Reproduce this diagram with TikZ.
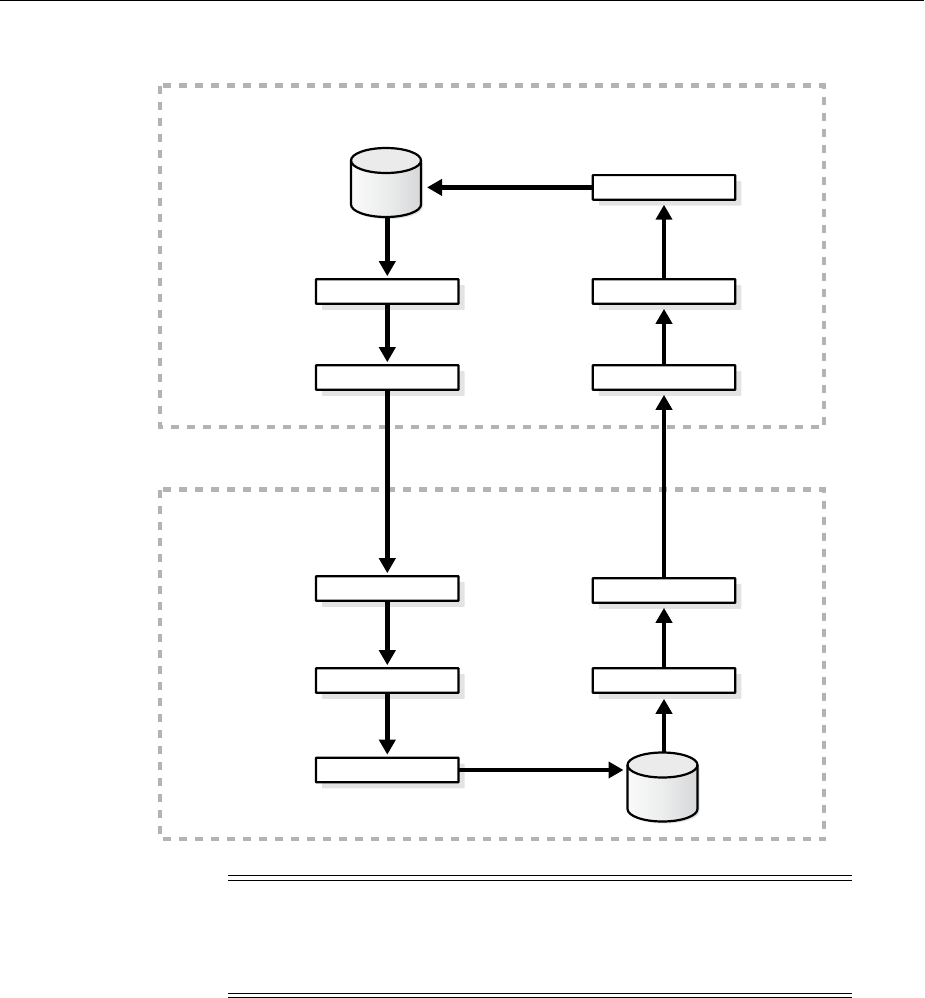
\documentclass[tikz,border=0pt]{standalone}
\usetikzlibrary{arrows.meta,shadows,calc}
\definecolor{dashgrey}{HTML}{B3B3B3}
\definecolor{shadowgrey}{HTML}{E3E3E3}
\definecolor{dbtopfill}{HTML}{EBEBEB}
\definecolor{dbleft}{HTML}{FAFAFA}
\definecolor{dbmid}{HTML}{ECEDED}
\definecolor{dbright}{HTML}{D6D7D8}
\tikzset{
  every picture/.style={x=1pt,y=-1pt},
  stepbox/.style={draw=black,line width=2.2pt,fill=white,minimum width=142.5pt,minimum height=24.6pt,inner sep=0pt,outer sep=0pt,
     rounded corners=0.5pt,drop shadow={shadow xshift=6pt,shadow yshift=-6pt,fill=shadowgrey,opacity=1}},
  dbanchor/.style={minimum width=70pt,minimum height=69pt,inner sep=0pt,outer sep=0pt},
  flow/.style={line width=4.6pt,-{Triangle[length=15pt,width=16pt]}},
  zone/.style={draw=dashgrey,line width=4.3pt,dash pattern=on 8pt off 8pt},
  rule/.style={line width=1.2pt,black},
}
\newcommand{\dbdraw}[2]{%
  \fill[shadowgrey] (#1-35+2,#2-22+2) -- (#1-35+2,#2+22+2) arc[x radius=35,y radius=-12.5,start angle=180,end angle=360] -- (#1+35+2,#2-22+2) -- cycle;
  \shade[left color=dbleft,right color=dbright,middle color=dbmid] (#1-35,#2-22) -- (#1-35,#2+22) arc[x radius=35,y radius=-12.5,start angle=180,end angle=360] -- (#1+35,#2-22) -- cycle;
  \draw[line width=2.2pt,fill=dbtopfill] (#1,#2-22) ellipse[x radius=35,y radius=12.5];
  \draw[line width=2.2pt] (#1-35,#2-22) -- (#1-35,#2+22) arc[x radius=35,y radius=-12.5,start angle=180,end angle=360] -- (#1+35,#2-22);
}
\begin{document}
\begin{tikzpicture}
\useasboundingbox (0,0) rectangle (924,998);
\coordinate (ruleTL) at (0,1); \coordinate (ruleTR) at (924,1);
\draw[line width=1pt] (ruleTL) -- (ruleTR);
\draw[zone] (160,85.5) rectangle (824,427);
\draw[zone] (160,489.5) rectangle (824,839);

\node[stepbox] (a1) at (387.3,291.5) {};
\node[stepbox] (a2) at (387.3,377.5) {};
\node[stepbox] (a3) at (387.3,588.5) {};
\node[stepbox] (a4) at (387.3,680.5) {};
\node[stepbox] (a5) at (387.3,770) {};
\node[stepbox] (b1) at (664,187.4) {};
\node[stepbox] (b2) at (664,291.5) {};
\node[stepbox] (b3) at (664,377.5) {};
\node[stepbox] (b4) at (664,590.5) {};
\node[stepbox] (b5) at (664,680.5) {};

\node[dbanchor] (dbtop) at (386,182.5) {};
\node[dbanchor] (dbbot) at (662.5,787) {};
\dbdraw{386}{182.5}
\dbdraw{662.5}{787}

\draw[flow,shorten >=3pt] (a1.north |- dbtop.south) -- (a1.north);
\draw[flow,shorten >=3pt] (a1) -- (a2);
\draw[flow,shorten >=3pt] (a2) -- (a3);
\draw[flow,shorten >=3pt] (a3) -- (a4);
\draw[flow,shorten >=3pt] (a4) -- (a5);
\draw[flow,shorten >=4pt] (a5.east) -- (dbbot.west |- a5.east);
\draw[flow,shorten >=6pt] (b5.south |- dbbot.north) -- (b5.south);
\draw[flow,shorten >=5pt] (b5) -- (b4);
\draw[flow,shorten >=5pt] (b4) -- (b3);
\draw[flow,shorten >=5pt] (b3) -- (b2);
\draw[flow,shorten >=5pt] (b2) -- (b1);
\draw[flow,shorten >=6pt] (b1.west) -- (dbtop.east |- b1.west);

\coordinate (r1a) at (228,875.5); \coordinate (r1b) at (852,875.5);
\coordinate (r2a) at (228,880.5); \coordinate (r2b) at (852,880.5);
\coordinate (r3a) at (228,993.5); \coordinate (r3b) at (852,993.5);
\coordinate (r4a) at (228,997.5); \coordinate (r4b) at (852,997.5);
\draw[rule] (r1a) -- (r1b);
\draw[rule] (r2a) -- (r2b);
\draw[rule] (r3a) -- (r3b);
\draw[rule] (r4a) -- (r4b);
\end{tikzpicture}
\end{document}
